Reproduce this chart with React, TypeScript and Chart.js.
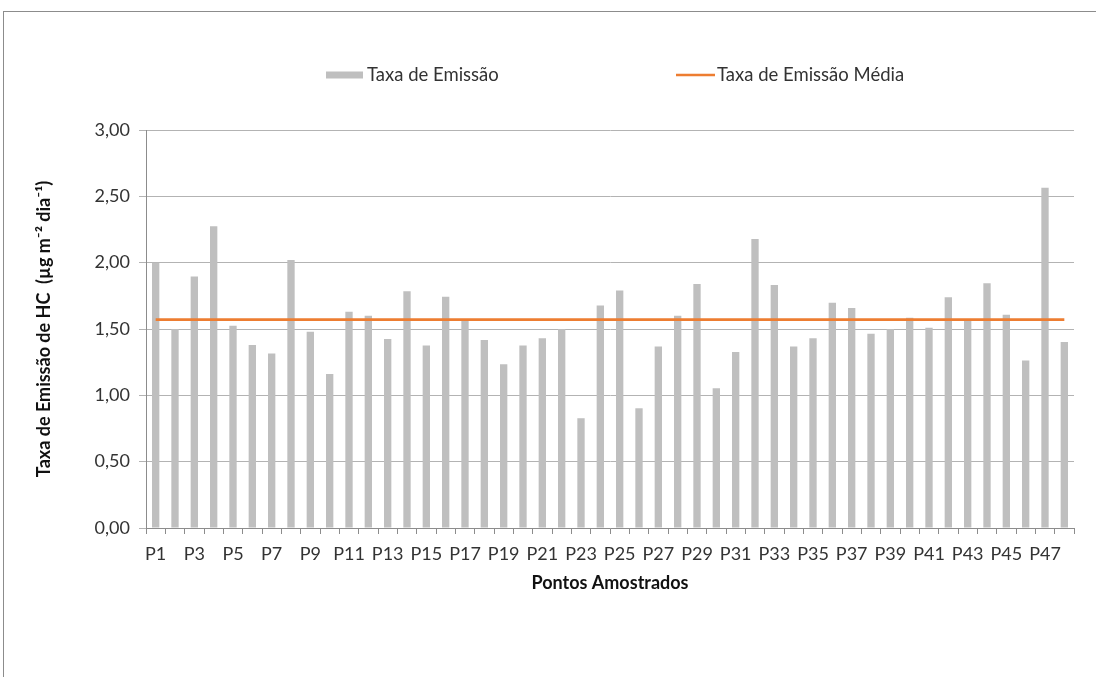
import React, { useEffect, useRef } from "react";
import { Chart, registerables } from "chart.js";

Chart.register(...registerables);

const categories = [
  "P1", "P2", "P3", "P4", "P5", "P6", "P7", "P8", "P9", "P10", "P11", "P12",
  "P13", "P14", "P15", "P16", "P17", "P18", "P19", "P20", "P21", "P22", "P23", "P24",
  "P25", "P26", "P27", "P28", "P29", "P30", "P31", "P32", "P33", "P34", "P35", "P36",
  "P37", "P38", "P39", "P40", "P41", "P42", "P43", "P44", "P45", "P46", "P47", "P48",
];

const emissionRates = [
  2.0, 1.5, 1.895, 2.275, 1.525, 1.38, 1.315, 2.02, 1.48, 1.16, 1.63, 1.6,
  1.425, 1.785, 1.375, 1.7425, 1.56, 1.4175, 1.235, 1.375, 1.43, 1.5, 0.8275, 1.6775,
  1.79, 0.9025, 1.3675, 1.6, 1.84, 1.0525, 1.3275, 2.1775, 1.8325, 1.3675, 1.43, 1.6975,
  1.6575, 1.465, 1.5, 1.585, 1.51, 1.74, 1.565, 1.845, 1.6075, 1.2625, 2.565, 1.4025,
];

const meanEmissionRate = [
  1.57, 1.57, 1.57, 1.57, 1.57, 1.57, 1.57, 1.57, 1.57, 1.57, 1.57, 1.57,
  1.57, 1.57, 1.57, 1.57, 1.57, 1.57, 1.57, 1.57, 1.57, 1.57, 1.57, 1.57,
  1.57, 1.57, 1.57, 1.57, 1.57, 1.57, 1.57, 1.57, 1.57, 1.57, 1.57, 1.57,
  1.57, 1.57, 1.57, 1.57, 1.57, 1.57, 1.57, 1.57, 1.57, 1.57, 1.57, 1.57,
];

const seriesLabels = ["Taxa de Emissão", "Taxa de Emissão Média"];
const yAxisTitle = "Taxa de Emissão de HC  (µg m⁻² dia⁻¹)";
const xAxisTitle = "Pontos Amostrados";

const FONT = "Lato";
const FS = 18;
const LEGEND_FS = 18.5;
const BAR_COLOR = "#bfbfbf";
const LINE_COLOR = "#ed7d31";
const TEXT_COLOR = "#333333";
const GRID_COLOR = "#b3b3b3";
const AXIS_COLOR = "#8c8c8c";

const legendPlugin = {
  id: "excelLegend",
  afterDraw(chart: any) {
    const { ctx, chartArea } = chart;
    const cx = (chartArea.left + chartArea.right) / 2;
    const y = 75;
    ctx.save();
    ctx.font = `${LEGEND_FS}px ${FONT}`;
    ctx.textBaseline = "middle";
    ctx.textAlign = "left";
    const x1 = cx - 284;
    ctx.fillStyle = BAR_COLOR;
    ctx.fillRect(x1, y - 3.5, 37, 7);
    ctx.fillStyle = TEXT_COLOR;
    ctx.fillText(chart.data.datasets[0].label, x1 + 41, y);
    const x2 = cx + 66;
    ctx.strokeStyle = LINE_COLOR;
    ctx.lineWidth = 2.7;
    ctx.beginPath();
    ctx.moveTo(x2, y);
    ctx.lineTo(x2 + 39, y);
    ctx.stroke();
    ctx.fillStyle = TEXT_COLOR;
    ctx.fillText(chart.data.datasets[1].label, x2 + 41, y);
    ctx.restore();
  },
};

export default function App() {
  const canvasRef = useRef<HTMLCanvasElement | null>(null);

  useEffect(() => {
    document.body.style.margin = "0";
    document.body.style.overflow = "hidden";
    if (!canvasRef.current) return;
    const chart = new Chart(canvasRef.current, {
      type: "bar",
      data: {
        labels: categories,
        datasets: [
          {
            type: "bar",
            label: seriesLabels[0],
            data: emissionRates,
            backgroundColor: BAR_COLOR,
            barPercentage: 0.38,
            categoryPercentage: 1,
            order: 1,
          },
          {
            type: "line",
            label: seriesLabels[1],
            data: meanEmissionRate,
            borderColor: LINE_COLOR,
            backgroundColor: LINE_COLOR,
            borderWidth: 2.7,
            pointRadius: 0,
            order: 0,
          } as any,
        ],
      },
      options: {
        animation: false,
        responsive: true,
        maintainAspectRatio: false,
        layout: { padding: { left: 0, right: 22, top: 130, bottom: 80 } },
        plugins: {
          legend: { display: false },
          tooltip: { enabled: false },
        },
        scales: {
          x: {
            offset: true,
            grid: {
              offset: true,
              drawOnChartArea: false,
              drawTicks: true,
              tickLength: 6,
              color: AXIS_COLOR,
            },
            border: { display: true, color: AXIS_COLOR, width: 1 },
            ticks: {
              autoSkip: false,
              maxRotation: 0,
              minRotation: 0,
              padding: 9,
              color: TEXT_COLOR,
              font: { family: FONT, size: FS },
              callback: (_v: any, i: number) => (i % 2 === 0 ? categories[i] : ""),
            },
            title: {
              display: true,
              text: xAxisTitle,
              color: "#111111",
              font: { family: FONT, size: FS, weight: "bold" },
              padding: { top: 0, bottom: 3 },
            },
            afterFit: (scale: any) => {
              scale.height = 69;
            },
          },
          y: {
            min: 0,
            max: 3,
            ticks: {
              stepSize: 0.5,
              padding: 9,
              color: TEXT_COLOR,
              font: { family: FONT, size: FS },
              callback: (v: any) => Number(v).toFixed(2).replace(".", ","),
            },
            grid: {
              color: GRID_COLOR,
              drawTicks: true,
              tickLength: 7,
            },
            border: { display: true, color: AXIS_COLOR, width: 1 },
            title: {
              display: true,
              text: yAxisTitle,
              color: "#111111",
              font: { family: FONT, size: FS, weight: "bold" },
              padding: { top: 33, bottom: 0 },
            },
            afterFit: (scale: any) => {
              scale.width = 146;
            },
          },
        },
      },
      plugins: [legendPlugin],
    });
    return () => chart.destroy();
  }, []);

  return (
    <>
      <div
        style={{
          position: "fixed",
          left: 3,
          top: 11,
          width: 1300,
          height: 900,
          border: "1px solid #8c8c8c",
          boxSizing: "border-box",
          pointerEvents: "none",
        }}
      />
      <div style={{ position: "fixed", left: 0, top: 0, width: 1096, height: 677 }}>
        <canvas ref={canvasRef} />
      </div>
    </>
  );
}
